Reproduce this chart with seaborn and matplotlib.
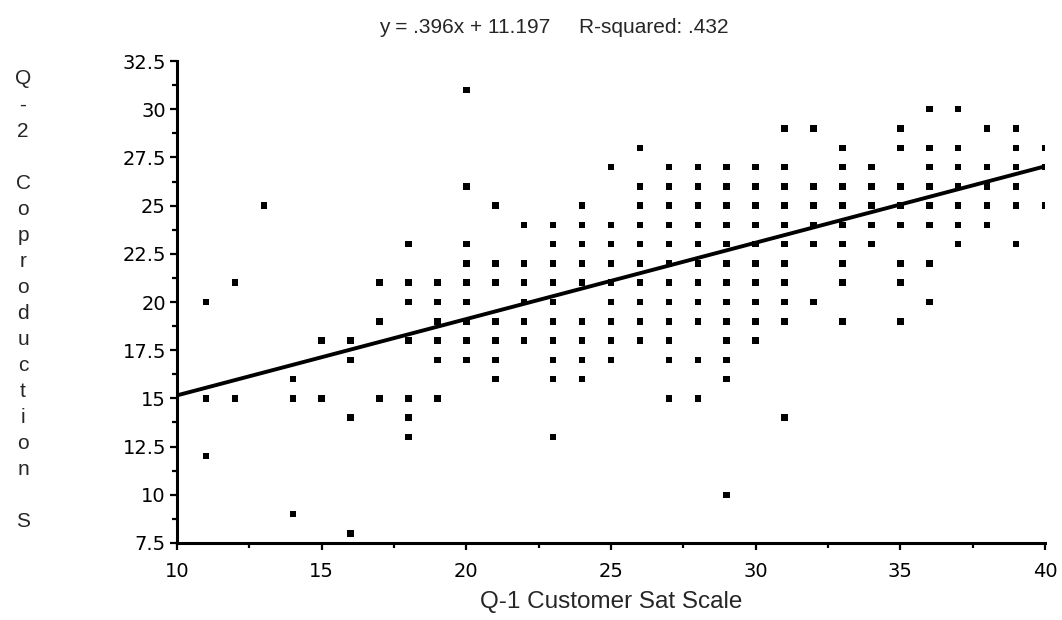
"""
Scatter plot of Q-2 Coproduction scale against Q-1 Customer Sat scale,
with the fitted regression line.
"""
import pandas as pd
import seaborn as sns
import matplotlib.pyplot as plt
from matplotlib.ticker import MultipleLocator

# Q-1 score (x) and the Q-2 scores seen at that x
Q1_SCORES = [11, 12, 13, 14, 15, 16, 17, 18, 19, 20,
             21, 22, 23, 24, 25, 26, 27, 28, 29, 30,
             31, 32, 33, 34, 35, 36, 37, 38, 39, 40]
Q2_SCORES = [
    [20, 15, 12],
    [21, 15],
    [25],
    [16, 15, 9],
    [18, 15],
    [18, 17, 14, 8],
    [21, 19, 15],
    [23, 21, 20, 18, 15, 14, 13],
    [21, 20, 19, 18, 17, 15],
    [31, 26, 23, 22, 21, 20, 19, 18, 17],
    [25, 22, 21, 19, 18, 17, 16],
    [24, 22, 21, 20, 19, 18],
    [24, 23, 22, 21, 20, 19, 18, 17, 16, 13],
    [25, 24, 23, 22, 21, 19, 18, 17, 16],
    [27, 24, 23, 22, 21, 20, 19, 18, 17],
    [28, 26, 25, 24, 23, 22, 21, 20, 19, 18],
    [27, 26, 25, 24, 23, 22, 21, 20, 19, 18, 17, 15],
    [27, 26, 25, 24, 23, 22, 21, 20, 19, 17, 15],
    [27, 26, 25, 24, 23, 22, 21, 20, 19, 18, 17, 16, 10],
    [27, 26, 25, 24, 23, 22, 21, 20, 19, 18],
    [29, 27, 26, 25, 24, 23, 22, 21, 20, 19, 14],
    [29, 26, 25, 24, 23, 20],
    [28, 27, 26, 25, 24, 23, 22, 21, 19],
    [27, 26, 25, 24, 23],
    [29, 28, 26, 25, 24, 22, 21, 19],
    [30, 28, 27, 26, 25, 24, 22, 20],
    [30, 28, 27, 26, 25, 24, 23],
    [29, 27, 26, 25, 24],
    [29, 28, 27, 26, 25, 23],
    [28, 27, 25],
]

# Regression reported on the chart
SLOPE = 0.396
INTERCEPT = 11.197
R_SQUARED = ".432"
LINE_X = [10, 40]

Y_LABEL = "Q-2 Coproduction S"
X_LABEL = "Q-1 Customer Sat Scale"

rows = []
for q1, q2_list in zip(Q1_SCORES, Q2_SCORES):
    for q2 in q2_list:
        rows.append((q1, q2))
points = pd.DataFrame(rows, columns=["q1", "q2"])
fit = pd.DataFrame({"q1": LINE_X,
                    "q2": [SLOPE * x + INTERCEPT for x in LINE_X]})

sns.set_style("ticks")
plt.rcParams['font.family'] = ['Liberation Sans', 'DejaVu Sans']

fig = plt.figure(figsize=(10.62, 6.2), dpi=100)
ax = fig.add_axes([0.1667, 0.1242, 0.8173, 0.7774])

sns.scatterplot(data=points, x="q1", y="q2", marker="s", s=22,
                color="black", edgecolor="none", ax=ax)
sns.lineplot(data=fit, x="q1", y="q2", color="black", linewidth=2.8, ax=ax)

ax.set_xlim(10, 40)
ax.set_ylim(7.5, 32.5)
ax.xaxis.set_major_locator(MultipleLocator(5))
ax.xaxis.set_minor_locator(MultipleLocator(2.5))
ax.yaxis.set_major_locator(MultipleLocator(2.5))
ax.yaxis.set_minor_locator(MultipleLocator(1.25))
ax.yaxis.set_major_formatter(lambda v, pos: ("%g" % v))

sns.despine(ax=ax)
for side in ["left", "bottom"]:
    ax.spines[side].set_linewidth(2.2)
    ax.spines[side].set_color("black")
ax.tick_params(which="major", length=5, width=1.6, colors="black")
ax.tick_params(which="minor", length=3.5, width=1.6, colors="black")
ax.tick_params(axis="x", which="major", pad=9)
ax.tick_params(axis="y", which="major", pad=3)
for label in ax.get_xticklabels() + ax.get_yticklabels():
    label.set_fontfamily("DejaVu Sans")
    label.set_fontsize(14)

ax.set_xlabel(X_LABEL, fontsize=17.5, labelpad=7)
ax.set_ylabel("")

fig.text(0.521, 0.956,
         "y = .396x + 11.197     R-squared: " + R_SQUARED,
         ha="center", va="center", fontsize=15)
fig.text(0.0217, 0.888, "\n".join(Y_LABEL), ha="center", va="top",
         fontsize=15, linespacing=1.47)

plt.savefig("out.png", dpi=100)
